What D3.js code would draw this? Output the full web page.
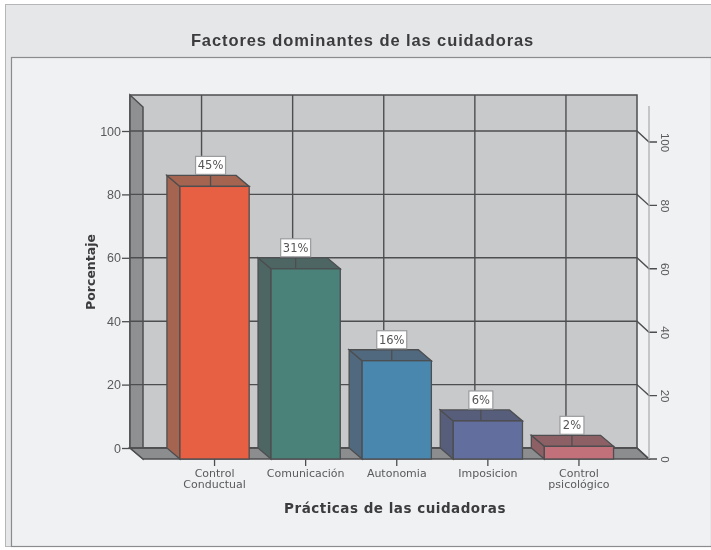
<!DOCTYPE html>
<html>
<head>
<meta charset="utf-8">
<script src="https://cdn.jsdelivr.net/npm/d3@7"></script>
<style>
  html, body { margin: 0; padding: 0; background: #fff; }
  svg { display: block; filter: blur(0.45px); }
  text { font-family: "Liberation Sans", sans-serif; }
</style>
</head>
<body>
<svg id="plot" width="711" height="550"></svg>
<script>
// Data
const categories = ["Control Conductual", "Comunicación", "Autonomia", "Imposicion", "Control psicológico"];
const values = [86, 60, 31, 12, 4];
const percentLabels = ["45%", "31%", "16%", "6%", "2%"];
const yTicks = [0, 20, 40, 60, 80, 100];
const faceColors = ["#e76043", "#4a8279", "#4a87ae", "#626f9e", "#c2707a"];
const sideColors = ["#a5644f", "#4d6663", "#50697f", "#575e7c", "#8d6065"];

const svg = d3.select("#plot");

// 3D box offsets
const depthX = 13;
const depthY = 11;
const lineColor = "#4d4e50";
const textColor = "#5a5a5c";
// the labels do not sit on the bar centre, each one is pushed left a bit
const labelNudge = [4, 10, 5, 7, 7];

// Scales: back wall plane, the front plane is the same thing shifted by depth
const scaleY = d3.scaleLinear().domain([0, 100]).range([448, 131]);
const yMax = scaleY.invert(95);
const scaleX = d3.scaleBand().domain(categories).range([169, 624.5]).paddingInner(0.24).paddingOuter(0.12);
const wallLeft = 130;
const wallRight = 637;
const poly = (pts) => pts.map((p) => p.join(",")).join(" ");

// Panel backgrounds
svg.append("rect").attr("x", 5.5).attr("y", 4.5).attr("width", 706).attr("height", 542)
    .attr("fill", "#e6e7e8").attr("stroke", "#b5b6b8");
svg.append("rect").attr("x", 11.5).attr("y", 57.5).attr("width", 700).attr("height", 489)
    .attr("fill", "#f0f1f3").attr("stroke", "#8b8c8e").attr("stroke-width", 1.2);

// Title
svg.append("text").attr("x", 362.5).attr("y", 46).attr("text-anchor", "middle")
    .attr("font-size", "16.5px").attr("font-weight", "bold").attr("letter-spacing", "0.9px")
    .attr("fill", "#3c3c3e").text("Factores dominantes de las cuidadoras");

// Walls and floor
const y0 = scaleY(0);
const yTop = scaleY(yMax);
svg.append("rect").attr("x", wallLeft).attr("y", yTop).attr("width", wallRight - wallLeft).attr("height", y0 - yTop)
    .attr("fill", "#c8c9cb").attr("stroke", lineColor).attr("stroke-width", 1.5);
svg.append("polygon")
    .attr("points", poly([[wallLeft, yTop], [wallLeft + depthX, yTop + depthY + 1], [wallLeft + depthX, y0 + depthY], [wallLeft, y0]]))
    .attr("fill", "#8f9092").attr("stroke", lineColor).attr("stroke-width", 1.5);
svg.append("polygon")
    .attr("points", poly([[wallLeft, y0], [wallRight, y0], [wallRight + depthX - 1, y0 + depthY], [wallLeft + depthX, y0 + depthY]]))
    .attr("fill", "#8c8d8f").attr("stroke", lineColor).attr("stroke-width", 1.5);

// Horizontal gridlines with the step down to the right axis
svg.append("g").selectAll("polyline").data(yTicks).enter().append("polyline")
    .attr("fill", "none").attr("stroke", lineColor).attr("stroke-width", 1.4)
    .attr("points", (d) => poly([
        [wallLeft, scaleY(d)], [wallRight, scaleY(d)],
        [wallRight + depthX - 1, scaleY(d) + depthY], [wallRight + depthX + 7, scaleY(d) + depthY]
    ]));

// Vertical gridlines on the back wall
svg.append("g").selectAll("line").data(categories).enter().append("line")
    .attr("x1", (d) => scaleX(d) + scaleX.bandwidth() / 2 - depthX)
    .attr("x2", (d) => scaleX(d) + scaleX.bandwidth() / 2 - depthX)
    .attr("y1", yTop).attr("y2", y0)
    .attr("stroke", lineColor).attr("stroke-width", 1.4);

// Left axis
const axisLeft = svg.append("g").attr("transform", "translate(" + wallLeft + ",0)")
    .call(d3.axisLeft(scaleY).tickValues(yTicks).tickSize(8).tickPadding(1));
axisLeft.select(".domain").remove();
axisLeft.selectAll("line").attr("stroke", lineColor).attr("stroke-width", 1.3);
axisLeft.selectAll("text").attr("font-size", "12.5px").attr("fill", textColor)
    .style("font-family", "'Liberation Sans', sans-serif");

// Right axis, labels turned on their side
const axisRight = svg.append("g").attr("transform", "translate(" + (wallRight + depthX - 1) + "," + depthY + ")")
    .call(d3.axisRight(scaleY).tickValues(yTicks).tickSize(0).tickPadding(0));
axisRight.select(".domain").attr("stroke", "#a9aaac").attr("stroke-width", 1.2)
    .attr("d", "M0," + (scaleY(yMax)) + "V" + y0);
axisRight.selectAll("text")
    .attr("font-size", "11.5px").attr("fill", textColor)
    .attr("x", 0).attr("dy", 0).attr("text-anchor", "middle")
    .attr("transform", "translate(12,0) rotate(90)")
    .style("font-family", "'Liberation Sans', sans-serif");

// Bottom axis
const axisBottom = svg.append("g").attr("transform", "translate(0," + (y0 + depthY) + ")")
    .call(d3.axisBottom(scaleX).tickSize(7).tickFormat(""));
axisBottom.select(".domain").remove();
axisBottom.selectAll("line").attr("stroke", lineColor).attr("stroke-width", 1.3);
axisBottom.selectAll(".tick").each(function (d) {
    const t = d3.select(this).append("text").attr("text-anchor", "middle")
        .attr("font-size", "11px").attr("fill", textColor)
        .style("font-family", "'DejaVu Sans', sans-serif");
    const words = d.split(" ");
    words.forEach((w, i) => {
        t.append("tspan").attr("x", 0).attr("y", 18 + i * 10.5).text(w);
    });
});

// Bars: side, top, then front face
const bars = svg.append("g").selectAll("g").data(categories).enter().append("g");
const fl = (d) => scaleX(d);
const fr = (d) => scaleX(d) + scaleX.bandwidth();
const barTop = (i) => scaleY(values[i]) + depthY;

bars.append("polygon")
    .attr("points", (d, i) => poly([[fl(d) - depthX, barTop(i) - depthY], [fl(d), barTop(i)], [fl(d), y0 + depthY], [fl(d) - depthX, y0]]))
    .attr("fill", (d, i) => sideColors[i]).attr("stroke", lineColor).attr("stroke-width", 1.3);
bars.append("polygon")
    .attr("points", (d, i) => poly([[fl(d) - depthX, barTop(i) - depthY], [fr(d) - depthX, barTop(i) - depthY], [fr(d), barTop(i)], [fl(d), barTop(i)]]))
    .attr("fill", (d, i) => sideColors[i]).attr("stroke", lineColor).attr("stroke-width", 1.3);
bars.append("rect")
    .attr("x", (d) => fl(d)).attr("y", (d, i) => barTop(i))
    .attr("width", scaleX.bandwidth()).attr("height", (d, i) => y0 + depthY - barTop(i))
    .attr("fill", (d, i) => faceColors[i]).attr("stroke", lineColor).attr("stroke-width", 1.3);

// Percent labels with their leader line
const labelX = (d, i) => scaleX(d) + scaleX.bandwidth() / 2 - labelNudge[i];
bars.append("line")
    .attr("x1", labelX).attr("x2", labelX)
    .attr("y1", (d, i) => barTop(i) - depthY - 1).attr("y2", (d, i) => barTop(i))
    .attr("stroke", lineColor).attr("stroke-width", 1.3);
bars.append("rect")
    .attr("x", (d, i) => labelX(d, i) - (i < 3 ? 15 : 12)).attr("y", (d, i) => barTop(i) - depthY - 19)
    .attr("width", (d, i) => (i < 3 ? 30 : 24)).attr("height", 18)
    .attr("fill", "#fff").attr("stroke", "#9a9b9d").attr("stroke-width", 1.2);
bars.append("text")
    .attr("x", labelX).attr("y", (d, i) => barTop(i) - depthY - 6)
    .attr("text-anchor", "middle").attr("font-size", "11.5px").attr("fill", "#555")
    .style("font-family", "'DejaVu Sans', sans-serif")
    .text((d, i) => percentLabels[i]);

// Axis titles
svg.append("text").attr("x", 395).attr("y", 513).attr("text-anchor", "middle")
    .attr("font-size", "13.5px").attr("font-weight", "bold").attr("letter-spacing", "0.5px")
    .attr("fill", "#3c3c3e").style("font-family", "'DejaVu Sans', sans-serif")
    .text("Prácticas de las cuidadoras");
svg.append("text").attr("transform", "translate(95,272) rotate(-90)").attr("text-anchor", "middle")
    .attr("font-size", "12.5px").attr("font-weight", "bold")
    .attr("fill", "#3c3c3e").style("font-family", "'DejaVu Sans', sans-serif")
    .text("Porcentaje");
</script>
</body>
</html>
